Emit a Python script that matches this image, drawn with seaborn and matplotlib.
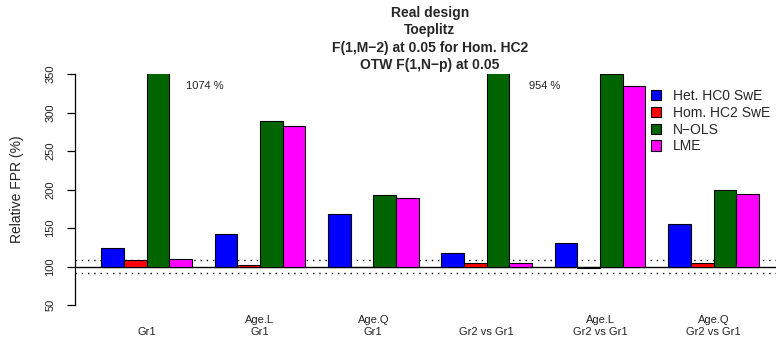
import numpy as np
import pandas as pd
import matplotlib
matplotlib.use("Agg")
import matplotlib.pyplot as plt
from matplotlib.patches import Patch
import seaborn as sns

# ---- data ----
contrasts = ["Gr1", "Age.L\nGr1", "Age.Q\nGr1",
             "Gr2 vs Gr1", "Age.L\nGr2 vs Gr1", "Age.Q\nGr2 vs Gr1"]
methods = ["Het. HC0 SwE", "Hom. HC2 SwE", "N\u2212OLS", "LME"]
het_hc0 = [124, 142, 168, 117, 131, 155]
hom_hc2 = [108, 102.5, 99, 105, 98.5, 104.5]
n_ols = [1074, 289, 193, 954, 350, 199]
lme = [110, 283, 189, 104.5, 335, 194]
colors = ["#0000FF", "#FF0000", "#006400", "#FF00FF"]
title_lines = ["Real design", "Toeplitz",
               "F(1,M\u22122) at 0.05 for Hom. HC2", "OTW F(1,N\u2212p) at 0.05"]
y_ticks = [50, 100, 150, 200, 250, 300, 350]
ref_level = 100
ci_bounds = [91.4, 108.6]
y_label = "Relative FPR (%)"

# ---- table ----
rows = []
for m, vals in zip(methods, [het_hc0, hom_hc2, n_ols, lme]):
    for c, v in zip(contrasts, vals):
        rows.append({"contrast": c, "method": m, "value": v})
df = pd.DataFrame(rows)
df["excess"] = df["value"] - ref_level

sns.set_style("white")
plt.rcParams["font.family"] = ["Liberation Sans", "DejaVu Sans"]

W, H = 776, 337
fig = plt.figure(figsize=(W / 100, H / 100), dpi=100)
ax = fig.add_axes([75 / W, (H - 305) / H, 1 - 75 / W, (305 - 74) / H])

# reference lines (behind bars)
ax.axhline(ref_level, color="black", lw=1.0, zorder=0.5)
for b in ci_bounds:
    ax.axhline(b, color="black", lw=1.0, ls=(0, (1, 3.5)), zorder=0.5)

sns.barplot(data=df, x="contrast", y="excess", hue="method",
            order=contrasts, hue_order=methods, palette=colors,
            saturation=1, edgecolor="black", linewidth=0.8,
            bottom=ref_level, width=0.8, errorbar=None, ax=ax, zorder=2,
            legend=False)

y_top = y_ticks[-1]
ax.set_ylim(y_ticks[0], y_top)
ax.set_xlim(-0.6305, 5.551)

# labels for clipped bars
for i, v in enumerate(n_ols):
    if v > y_top:
        ax.text(i + 0.51, 334, f"{v:.0f} %", ha="center", va="center",
                fontsize=8, color="#222222")

# axes styling
for s in ["top", "right", "bottom"]:
    ax.spines[s].set_visible(False)
ax.spines["left"].set_color("black")
ax.spines["left"].set_linewidth(0.9)
ax.spines["left"].set_bounds(y_ticks[0], y_ticks[-1])
ax.set_yticks(y_ticks)
ax.tick_params(axis="y", length=6, width=0.9, color="black", pad=8,
               labelsize=8, labelrotation=90, left=True, labelcolor="#222222")
for t in ax.get_yticklabels():
    t.set_va("center")
ax.tick_params(axis="x", length=0, pad=23, labelsize=8, labelcolor="#222222")
for t in ax.get_xticklabels():
    t.set_va("bottom")
    t.set_linespacing(1.3)
ax.set_xlabel("")
ax.set_ylabel(y_label, fontsize=10, va="center", color="#222222")
ax.yaxis.set_label_coords((17 - 75) / (W - 75), 0.5)

# legend
handles = [Patch(facecolor=c, edgecolor="black", linewidth=0.8) for c in colors]
fig.legend(handles, methods, loc="upper left",
           bbox_to_anchor=(651 / W, 1 - 89 / H), frameon=False, fontsize=10,
           handlelength=0.75, handleheight=0.75, handletextpad=0.8,
           labelspacing=0.2, borderpad=0, borderaxespad=0)

# title
for k, line in enumerate(title_lines):
    fig.text(430 / W, 1 - (13 + 17.3 * k) / H, line, ha="center", va="center",
             fontsize=10, fontweight="bold")

fig.savefig("out.png", dpi=100)
